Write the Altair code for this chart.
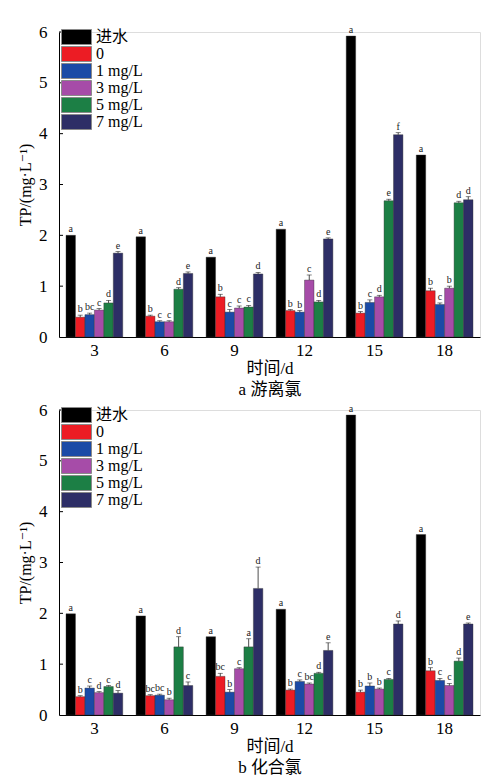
import altair as alt
import pandas as pd

# groups on the x axis (days) and the six series
days = [3, 6, 9, 12, 15, 18]
series = ["进水", "0", "1 mg/L", "3 mg/L", "5 mg/L", "7 mg/L"]
colors = ["#000000", "#ec1c24", "#1a4aa6", "#a64ca8", "#1c7f45", "#2d2e66"]

# panel a: free chlorine (TP, mg/L) per series, one value per day
a_vals = {
    "进水": [2.00, 1.97, 1.57, 2.12, 5.92, 3.58],
    "0": [0.39, 0.41, 0.79, 0.52, 0.47, 0.91],
    "1 mg/L": [0.44, 0.30, 0.49, 0.49, 0.68, 0.64],
    "3 mg/L": [0.53, 0.30, 0.57, 1.12, 0.79, 0.96],
    "5 mg/L": [0.67, 0.94, 0.59, 0.69, 2.68, 2.64],
    "7 mg/L": [1.65, 1.25, 1.24, 1.93, 3.98, 2.70],
}
a_errs = {
    "进水": [0, 0, 0, 0, 0, 0],
    "0": [0.04, 0.02, 0.05, 0.02, 0.03, 0.05],
    "1 mg/L": [0.03, 0.02, 0.05, 0.03, 0.05, 0.03],
    "3 mg/L": [0.03, 0.02, 0.04, 0.10, 0.03, 0.04],
    "5 mg/L": [0.05, 0.03, 0.03, 0.03, 0.03, 0.03],
    "7 mg/L": [0.03, 0.03, 0.03, 0.02, 0.04, 0.06],
}
a_letters = {
    "进水": ["a", "a", "a", "a", "a", "a"],
    "0": ["b", "b", "b", "b", "b", "b"],
    "1 mg/L": ["bc", "c", "c", "b", "c", "c"],
    "3 mg/L": ["c", "c", "c", "c", "d", "b"],
    "5 mg/L": ["d", "d", "c", "d", "e", "d"],
    "7 mg/L": ["e", "e", "d", "e", "f", "d"],
}

# panel b: combined chlorine
b_vals = {
    "进水": [1.99, 1.95, 1.54, 2.08, 5.90, 3.55],
    "0": [0.36, 0.38, 0.76, 0.49, 0.45, 0.87],
    "1 mg/L": [0.53, 0.39, 0.45, 0.66, 0.57, 0.68],
    "3 mg/L": [0.44, 0.30, 0.91, 0.61, 0.51, 0.58],
    "5 mg/L": [0.56, 1.34, 1.34, 0.82, 0.70, 1.06],
    "7 mg/L": [0.43, 0.58, 2.49, 1.27, 1.79, 1.79],
}
b_errs = {
    "进水": [0, 0, 0, 0, 0, 0],
    "0": [0.02, 0.02, 0.06, 0.02, 0.04, 0.06],
    "1 mg/L": [0.04, 0.02, 0.05, 0.03, 0.06, 0.04],
    "3 mg/L": [0.02, 0.03, 0.02, 0.02, 0.02, 0.04],
    "5 mg/L": [0.02, 0.20, 0.16, 0.02, 0.02, 0.06],
    "7 mg/L": [0.05, 0.07, 0.42, 0.15, 0.06, 0.02],
}
b_letters = {
    "进水": ["a", "a", "a", "a", "a", "a"],
    "0": ["b", "bc", "bc", "b", "b", "b"],
    "1 mg/L": ["c", "bc", "b", "c", "b", "c"],
    "3 mg/L": ["d", "b", "c", "bc", "b", "c"],
    "5 mg/L": ["c", "d", "a", "d", "c", "d"],
    "7 mg/L": ["d", "c", "d", "e", "d", "e"],
}

y_ticks = [1, 2, 3, 4, 5, 6]

SERIF = "'Liberation Serif', 'Times New Roman', 'DejaVu Serif', serif, 'Noto Sans CJK SC'"
NARROW = "'Liberation Serif', 'DejaVu Serif Condensed', 'DejaVu Serif', serif"


def to_frame(vals, errs, letters):
    rows = []
    for s in series:
        for i, d in enumerate(days):
            rows.append({"day": d, "series": s, "value": vals[s][i],
                         "err": errs[s][i], "hi": vals[s][i] + errs[s][i],
                         "letter": letters[s][i]})
    return pd.DataFrame(rows)


def panel(df, subtitle):
    x = alt.X("day:O", sort=days,
              scale=alt.Scale(paddingInner=0.19, paddingOuter=0.1),
              axis=alt.Axis(title=["时间/d", subtitle], labelAngle=0, ticks=False,
                            labelFontSize=17, labelPadding=5, titleFontSize=17,
                            titleFontWeight="normal", titlePadding=2, titleLineHeight=21,
                            labelFont=SERIF, titleFont=SERIF,
                            domainColor="black", labelColor="black", titleColor="black"))
    xo = alt.XOffset("series:N", sort=series, scale=alt.Scale(paddingInner=0))
    y_scale = alt.Scale(domain=[0, 6], nice=False)

    base = alt.Chart(df)
    bars = base.mark_bar(stroke="#333333", strokeWidth=0.4).encode(
        x=x, xOffset=xo,
        y=alt.Y("value:Q", scale=y_scale,
                axis=alt.Axis(title="TP/(mg·L⁻¹)", values=[0] + y_ticks, grid=False,
                              ticks=False, labelFontSize=17, labelPadding=12,
                              titleFontSize=16, titleFontWeight="normal", titlePadding=5,
                              labelFont=SERIF, titleFont=SERIF,
                              domainColor="black", labelColor="black", titleColor="black")),
        color=alt.Color("series:N", sort=series,
                        scale=alt.Scale(domain=series, range=colors),
                        legend=alt.Legend(title=None, orient="none", legendX=2, legendY=-3,
                                          symbolType="M-1,-0.5L1,-0.5L1,0.5L-1,0.5Z",
                                          symbolSize=900, symbolStrokeColor="#8a8a8a",
                                          symbolStrokeWidth=1, clipHeight=16, rowPadding=1,
                                          labelFontSize=16, labelFont=SERIF, labelColor="black",
                                          labelOffset=4, symbolOpacity=1)),
    )
    errs = base.transform_filter("datum.err > 0").mark_rule(color="#222222", strokeWidth=0.8).encode(
        x=x, xOffset=xo, y=alt.Y("value:Q", scale=y_scale), y2="hi:Q")
    caps = base.transform_filter("datum.err > 0").mark_tick(color="#222222", size=5, thickness=0.8).encode(
        x=x, xOffset=xo, y=alt.Y("hi:Q", scale=y_scale))
    labels = base.mark_text(dy=-6, fontSize=10, font=NARROW, color="#222222").encode(
        x=x, xOffset=xo, y=alt.Y("hi:Q", scale=y_scale), text="letter:N")
    inner_ticks = alt.Chart(pd.DataFrame({"t": y_ticks})).mark_rule(color="black", strokeWidth=1).encode(
        y=alt.Y("t:Q", scale=y_scale), x=alt.value(0), x2=alt.value(4))

    return alt.layer(bars, errs, caps, labels, inner_ticks).properties(width=421, height=305)


top = panel(to_frame(a_vals, a_errs, a_letters), "a 游离氯")
bottom = panel(to_frame(b_vals, b_errs, b_letters), "b 化合氯")

chart = alt.vconcat(top, bottom, spacing=2).resolve_legend(color="independent").properties(
    padding={"left": 9, "top": 14, "right": 5, "bottom": 5}
).configure_view(stroke=None).configure(background="white")

chart.save("out.html", embed_options={"renderer": "svg", "actions": False})
